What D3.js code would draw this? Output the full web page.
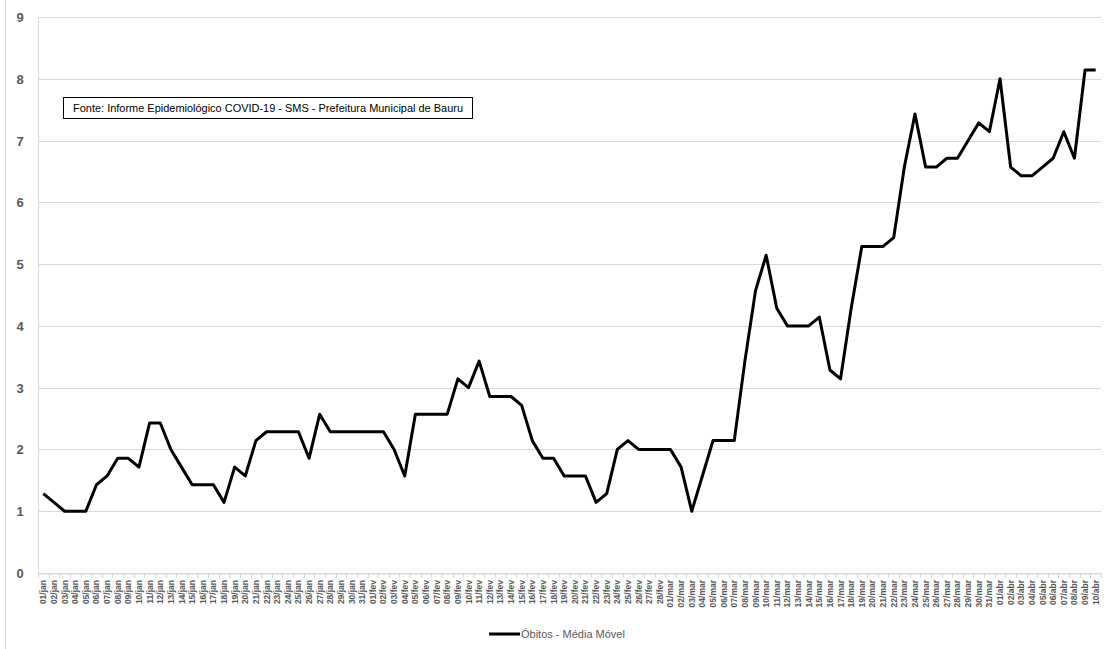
<!DOCTYPE html>
<html>
<head>
<meta charset="utf-8">
<script src="https://cdn.jsdelivr.net/npm/d3@7"></script>
<style>
  body { margin: 0; background: #fff; }
  svg { display: block; font-family: "Liberation Sans", Arial, sans-serif; }
</style>
</head>
<body>
<div id="chart"></div>
<script>
// months and how many days of each are shown
var months = ['jan', 'fev', 'mar', 'abr'];
var monthDays = [31, 28, 31, 10];

// 7-day moving average of deaths
var obitosJan = [1.286, 1.143, 1.0, 1.0, 1.0, 1.429, 1.571, 1.857, 1.857, 1.714,
                 2.429, 2.429, 2.0, 1.714, 1.429, 1.429, 1.429, 1.143, 1.714, 1.571,
                 2.143, 2.286, 2.286, 2.286, 2.286, 1.857, 2.571, 2.286, 2.286, 2.286, 2.286];
var obitosFev = [2.286, 2.286, 2.0, 1.571, 2.571, 2.571, 2.571, 2.571, 3.143, 3.0,
                 3.429, 2.857, 2.857, 2.857, 2.714, 2.143, 1.857, 1.857, 1.571, 1.571,
                 1.571, 1.143, 1.286, 2.0, 2.143, 2.0, 2.0, 2.0];
var obitosMar = [2.0, 1.714, 1.0, 1.571, 2.143, 2.143, 2.143, 3.429, 4.571, 5.143,
                 4.286, 4.0, 4.0, 4.0, 4.143, 3.286, 3.143, 4.286, 5.286, 5.286,
                 5.286, 5.429, 6.571, 7.429, 6.571, 6.571, 6.714, 6.714, 7.0, 7.286, 7.143];
var obitosAbr = [8.0, 6.571, 6.429, 6.429, 6.571, 6.714, 7.143, 6.714, 8.143, 8.143];

var yTicks = [0, 1, 2, 3, 4, 5, 6, 7, 8, 9];
var fonte = 'Fonte: Informe Epidemiológico COVID-19 - SMS - Prefeitura Municipal de Bauru';
var legendLabel = 'Óbitos - Média Móvel';

// build category labels like 01/jan
var labels = [];
months.forEach(function (m, i) {
  for (var d = 1; d <= monthDays[i]; d++) {
    labels.push((d < 10 ? '0' + d : '' + d) + '/' + m);
  }
});
var values = obitosJan.concat(obitosFev, obitosMar, obitosAbr);
var data = labels.map(function (l, i) { return { label: l, value: values[i] }; });

var W = 1107, H = 649;
var margin = { top: 17, right: 6, bottom: 76, left: 38 };

var svg = d3.select('#chart').append('svg')
  .attr('width', W).attr('height', H);

// outer chart border (only left edge visible)
svg.append('line')
  .attr('x1', 5.5).attr('x2', 5.5).attr('y1', 0).attr('y2', H)
  .style('stroke', '#d9d9d9');

var x = d3.scaleBand()
  .domain(labels)
  .range([margin.left, W - margin.right])
  .padding(0);

var y = d3.scaleLinear()
  .domain([0, 9])
  .range([H - margin.bottom, margin.top]);

// gridlines
svg.append('g')
  .selectAll('line')
  .data(yTicks)
  .enter().append('line')
    .attr('x1', margin.left).attr('x2', W - margin.right)
    .attr('y1', function (d) { return Math.round(y(d)) + 0.5; })
    .attr('y2', function (d) { return Math.round(y(d)) + 0.5; })
    .style('stroke', '#d9d9d9').style('stroke-width', 1);

// plot area left edge
svg.append('line')
  .attr('x1', margin.left + 0.5).attr('x2', margin.left + 0.5)
  .attr('y1', y(9)).attr('y2', y(0))
  .style('stroke', '#d9d9d9');

// y labels
svg.append('g')
  .selectAll('text')
  .data(yTicks)
  .enter().append('text')
    .attr('x', 20).attr('y', function (d) { return y(d) + 5; })
    .attr('text-anchor', 'middle')
    .text(function (d) { return d; })
    .style('fill', '#595959')
    .style('font-size', '13px')
    .style('font-weight', 'bold');

// x axis with ticks between categories
var xAxis = d3.axisBottom(x).tickSize(0).tickFormat('');
var gx = svg.append('g')
  .attr('transform', 'translate(0,' + (Math.round(y(0)) + 0.5) + ')')
  .call(xAxis);
gx.select('.domain').style('stroke', '#d9d9d9');

svg.append('g')
  .selectAll('line')
  .data(labels.concat(['end']))
  .enter().append('line')
    .attr('x1', function (d, i) { return Math.round(margin.left + i * x.bandwidth()) + 0.5; })
    .attr('x2', function (d, i) { return Math.round(margin.left + i * x.bandwidth()) + 0.5; })
    .attr('y1', Math.round(y(0))).attr('y2', Math.round(y(0)) + 5)
    .style('stroke', '#d9d9d9');

svg.append('g')
  .selectAll('text')
  .data(labels)
  .enter().append('text')
    .attr('transform', function (d) {
      return 'translate(' + (x(d) + x.bandwidth() / 2 + 3) + ',' + (y(0) + 7) + ') rotate(-90)';
    })
    .attr('text-anchor', 'end')
    .text(function (d) { return d; })
    .style('fill', '#595959')
    .style('font-size', '8.5px')
    .style('font-weight', 'bold');

// the line
var line = d3.line()
  .x(function (d) { return x(d.label) + x.bandwidth() / 2; })
  .y(function (d) { return y(d.value); });

svg.append('path')
  .datum(data)
  .attr('d', line)
  .style('fill', 'none')
  .style('stroke', '#000')
  .style('stroke-width', 3)
  .style('stroke-linejoin', 'round');

// source box
svg.append('rect')
  .attr('x', 63.5).attr('y', 97.5).attr('width', 409).attr('height', 21)
  .style('fill', '#fff').style('stroke', '#000').style('stroke-width', 1);
svg.append('text')
  .attr('x', 73).attr('y', 112)
  .attr('textLength', 390).attr('lengthAdjust', 'spacingAndGlyphs')
  .text(fonte)
  .style('fill', '#000')
  .style('font-size', '10.5px');

// legend
svg.append('line')
  .attr('x1', 489).attr('x2', 520).attr('y1', 634).attr('y2', 634)
  .style('stroke', '#000').style('stroke-width', 3);
svg.append('text')
  .attr('x', 521).attr('y', 638)
  .text(legendLabel)
  .style('fill', '#595959')
  .style('font-size', '11px');
</script>
</body>
</html>
